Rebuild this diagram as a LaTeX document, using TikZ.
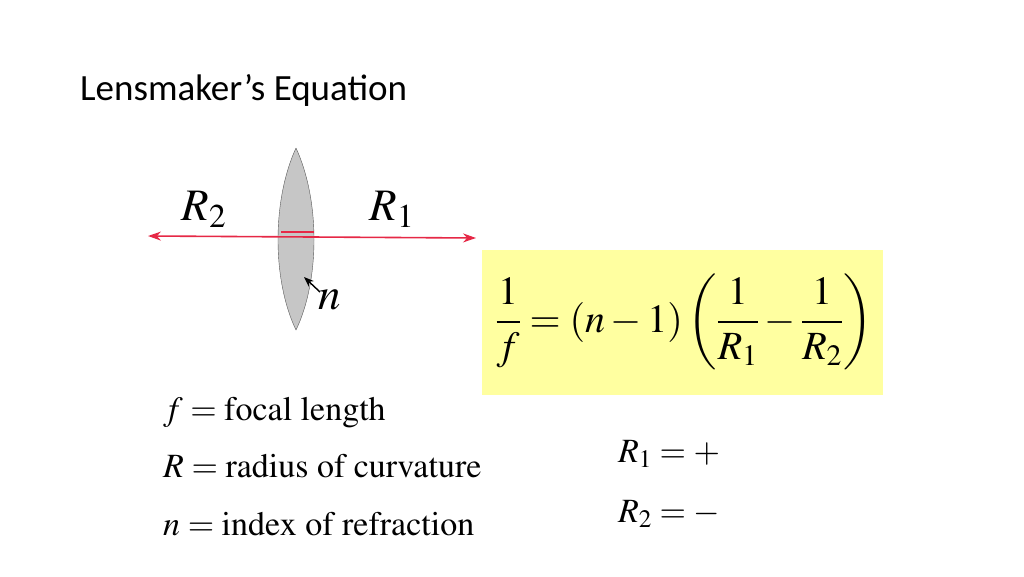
\documentclass[tikz,border=0pt]{standalone}
\usepackage{amsmath}
\usepackage{mathptmx}
\usepackage{fontspec}
\setmainfont{Liberation Serif}
\newfontfamily\titlefont{Carlito}
\usetikzlibrary{arrows.meta}
\definecolor{raycol}{RGB}{230,40,70}
\definecolor{boxcol}{RGB}{255,255,160}
\tikzset{
  lbl/.style={inner sep=0pt, font=\fontsize{34}{38}\selectfont},
  eq/.style={inner sep=0pt, font=\fontsize{40}{44}\selectfont}
}
\begin{document}
\begin{tikzpicture}[x=1pt,y=-1pt]
            \useasboundingbox[fill=white] (0,0) rectangle (1024,576);
            % title
            \node[anchor=base west, inner sep=0pt, font=\titlefont\fontsize{37}{40}\selectfont] (title) at (80,100) {Lensmaker’s Equation};
            % lens
            \draw[gray!70!black, fill=gray!45] (296,148) .. controls (320,200) and (320,280) .. (296,330)
                .. controls (272,280) and (272,200) .. (296,148);
            % optical axis
            \coordinate (left) at (148,236);
            \coordinate (right) at (476,238);
            \draw[raycol, line width=1.6pt, {Stealth[length=13pt,width=9pt]}-{Stealth[length=13pt,width=9pt]}] (left) -- (right);
            \draw[raycol, line width=1.2pt] (281,232) -- (314,232);
            \node[lbl, font=\fontsize{45}{50}\selectfont] (r2) at (204,209) {$R_2$};
            \node[lbl, font=\fontsize{45}{50}\selectfont] (r1) at (392,209) {$R_1$};
            \node[lbl, font=\fontsize{45}{50}\selectfont] (n) at (330,300) {$n$};
            \coordinate (ntip) at (304,277);
            \draw[line width=1.4pt, -{Stealth[length=10pt]}] (320,292) -- (ntip);
            % equation
            \fill[boxcol] (482,250) rectangle (883,395);
            \node[eq] (eqn) at (684,322) {$\dfrac{1}{f}=(n-1)\left(\dfrac{1}{R_1}-\dfrac{1}{R_2}\right)$};
            % definitions
            \node[lbl, anchor=base west] (deff) at (163,420) {$f=\mathrm{focal\ length}$};
            \node[lbl, anchor=base west] (defr) at (163,477) {$R=\mathrm{radius\ of\ curvature}$};
            \node[lbl, anchor=base west] (defn) at (163,535) {$n=\mathrm{index\ of\ refraction}$};
            \node[lbl, anchor=base west] (sr1) at (618,462) {$R_1=+$};
            \node[lbl, anchor=base west] (sr2) at (618,522) {$R_2=-$};
        \end{tikzpicture}
\end{document}
